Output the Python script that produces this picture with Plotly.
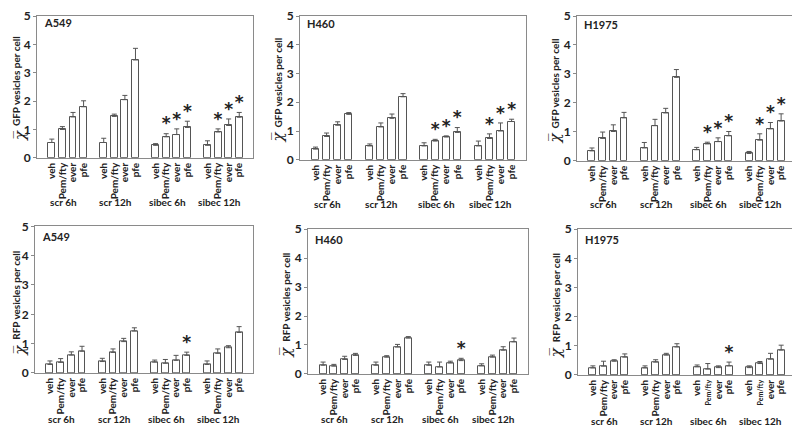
import plotly.graph_objects as go

# groups and treatments shared by all six panels
groups = ['scr 6h', 'scr 12h', 'sibec 6h', 'sibec 12h']
treatments = ['veh', 'Pem/fty', 'ever', 'pfe']

# mean vesicles per cell, group-major order (4 groups x 4 treatments)
a549_gfp = [0.54, 1.00, 1.44, 1.80, 0.54, 1.46, 2.05, 3.45, 0.44, 0.74, 0.82, 1.07, 0.44, 0.91, 1.14, 1.43]
a549_gfp_err = [0.12, 0.10, 0.16, 0.21, 0.15, 0.08, 0.15, 0.41, 0.06, 0.11, 0.20, 0.22, 0.16, 0.11, 0.23, 0.17]
h460_gfp = [0.37, 0.81, 1.20, 1.58, 0.48, 1.14, 1.44, 2.19, 0.48, 0.65, 0.79, 0.95, 0.48, 0.74, 1.00, 1.33]
h460_gfp_err = [0.07, 0.12, 0.12, 0.06, 0.07, 0.14, 0.15, 0.11, 0.11, 0.06, 0.04, 0.17, 0.17, 0.16, 0.28, 0.08]
h1975_gfp = [0.34, 0.77, 1.01, 1.48, 0.44, 1.21, 1.65, 2.88, 0.38, 0.58, 0.66, 0.86, 0.25, 0.71, 1.10, 1.37]
h1975_gfp_err = [0.10, 0.22, 0.23, 0.19, 0.19, 0.22, 0.16, 0.27, 0.08, 0.06, 0.13, 0.15, 0.07, 0.22, 0.22, 0.25]

a549_rfp = [0.29, 0.36, 0.61, 0.74, 0.39, 0.70, 1.07, 1.43, 0.37, 0.33, 0.43, 0.60, 0.29, 0.67, 0.86, 1.38]
a549_rfp_err = [0.12, 0.13, 0.11, 0.17, 0.11, 0.12, 0.11, 0.11, 0.07, 0.13, 0.17, 0.11, 0.12, 0.15, 0.07, 0.20]
h460_rfp = [0.30, 0.27, 0.50, 0.64, 0.30, 0.58, 0.93, 1.24, 0.30, 0.24, 0.38, 0.46, 0.28, 0.58, 0.82, 1.11]
h460_rfp_err = [0.11, 0.06, 0.11, 0.07, 0.11, 0.05, 0.09, 0.05, 0.11, 0.17, 0.06, 0.08, 0.07, 0.07, 0.12, 0.13]
h1975_rfp = [0.24, 0.30, 0.47, 0.61, 0.24, 0.44, 0.68, 0.96, 0.28, 0.20, 0.25, 0.31, 0.25, 0.39, 0.54, 0.85]
h1975_rfp_err = [0.07, 0.17, 0.05, 0.11, 0.07, 0.08, 0.06, 0.11, 0.06, 0.19, 0.06, 0.13, 0.06, 0.07, 0.20, 0.17]

# significance marks (1 = asterisk)
gfp_stars = [0, 0, 0, 0, 0, 0, 0, 0, 0, 1, 1, 1, 0, 1, 1, 1]
rfp_stars = [0, 0, 0, 0, 0, 0, 0, 0, 0, 0, 0, 1, 0, 0, 0, 0]

# the page body keeps its default 8px margin, so the figure is sized to fit inside the window
OFF = 8
W, H = 800 - OFF, 434 - OFF
FONT = 'Lato'
LINE = '#8a8a8a'
INK = '#222222'


def fx(p):
    return min(max((p - OFF) / W, 0), 1)


def fy(p):
    return min(max(1 - (p - OFF) / H, 0), 1)


# plot boxes in window pixels: left, right, top, bottom(zero line)
panels = [
    dict(cell='A549', marker='GFP', vals=a549_gfp, errs=a549_gfp_err, stars=gfp_stars, box=(37, 253, 4, 155), grp_y=201),
    dict(cell='H460', marker='GFP', vals=h460_gfp, errs=h460_gfp_err, stars=gfp_stars, box=(300, 526, 5, 157), grp_y=203),
    dict(cell='H1975', marker='GFP', vals=h1975_gfp, errs=h1975_gfp_err, stars=gfp_stars, box=(577, 795, 6, 158), grp_y=203),
    dict(cell='A549', marker='RFP', vals=a549_rfp, errs=a549_rfp_err, stars=rfp_stars, box=(35, 253, 226, 378), grp_y=426),
    dict(cell='H460', marker='RFP', vals=h460_rfp, errs=h460_rfp_err, stars=rfp_stars, box=(308, 528, 229, 379), grp_y=426),
    dict(cell='H1975', marker='RFP', vals=h1975_rfp, errs=h1975_rfp_err, stars=rfp_stars, box=(578, 795, 229, 380), grp_y=428),
]

GAP = 4.9
xpos = [g * GAP + i for g in range(len(groups)) for i in range(len(treatments))]
group_mid = [g * GAP + 1.5 for g in range(len(groups))]

fig = go.Figure()
annotations = []

for k, p in enumerate(panels, start=1):
    xa = 'x' if k == 1 else 'x%d' % k
    ya = 'y' if k == 1 else 'y%d' % k
    left, right, top, bottom = p['box']

    fig.add_trace(go.Bar(
        x=xpos, y=p['vals'], width=0.65, xaxis=xa, yaxis=ya,
        marker=dict(color='white', line=dict(color='#555555', width=1)),
        error_y=dict(type='data', symmetric=False, array=p['errs'], arrayminus=[0] * len(xpos),
                     color='#555555', thickness=1, width=2.5),
        hoverinfo='skip'))

    sx = [x for x, s in zip(xpos, p['stars']) if s]
    sy = [v + e for v, e, s in zip(p['vals'], p['errs'], p['stars']) if s]
    fig.add_trace(go.Scatter(
        x=sx, y=sy, mode='text', text=['*'] * len(sx), textposition='top center',
        textfont=dict(size=17, family='DejaVu Sans', color=INK, weight='bold'),
        xaxis=xa, yaxis=ya, hoverinfo='skip'))

    ticktext = list(treatments) * len(groups)
    if k == 6:
        # the last panel uses a smaller label for Pem/fty in the sibec groups
        ticktext[9] = "<span style='font-size:7px'>Pem/fty</span>"
        ticktext[13] = "<span style='font-size:7px'>Pem/fty</span>"

    fig.layout['xaxis' if k == 1 else 'xaxis%d' % k] = dict(
        domain=[fx(left), fx(right)], anchor=ya, range=[-1.4, 3 * GAP + 4.3],
        tickvals=xpos, ticktext=ticktext, tickangle=-90, ticks='',
        tickfont=dict(size=10, family=FONT, color=INK, weight='bold'),
        showline=True, linecolor=LINE, linewidth=1, mirror=True,
        showgrid=False, zeroline=False, fixedrange=True)
    fig.layout['yaxis' if k == 1 else 'yaxis%d' % k] = dict(
        domain=[fy(bottom), fy(top)], anchor=xa, range=[0, 5],
        tickvals=[0, 1, 2, 3, 4, 5], ticks='outside', ticklen=3, tickcolor=LINE,
        tickfont=dict(size=12, family=FONT, color=INK, weight='bold'),
        showline=True, linecolor=LINE, linewidth=1, mirror=True,
        showgrid=False, zeroline=False, fixedrange=True)

    # cell line label inside the box
    annotations.append(dict(
        text=p['cell'], xref='paper', yref='paper', x=fx(left + 5), y=fy(top + 11),
        xanchor='left', yanchor='middle', showarrow=False,
        font=dict(size=11, family=FONT, color=INK, weight='bold')))

    # y title and x-bar symbol
    mid = (top + bottom) / 2
    annotations.append(dict(
        text='%s vesicles per cell' % p['marker'], xref='paper', yref='paper',
        x=fx(max(left - 22, 16)), y=fy(mid - 4), textangle=-90,
        xanchor='center', yanchor='middle', showarrow=False,
        font=dict(size=10, family=FONT, color=INK, weight='bold')))
    annotations.append(dict(
        text='<i>\u03c7\u0305</i>', xref='paper', yref='paper',
        x=fx(max(left - 22, 20)), y=fy(mid + 53), textangle=-90,
        xanchor='center', yanchor='middle', showarrow=False,
        font=dict(size=15, family='DejaVu Serif', color=INK)))

    # group labels under the rotated treatment labels
    for g, name in enumerate(groups):
        annotations.append(dict(
            text=name, xref=xa, yref='paper', x=group_mid[g] - 0.4, y=fy(p['grp_y']),
            xanchor='center', yanchor='middle', showarrow=False,
            font=dict(size=10, family=FONT, color=INK, weight='bold')))

fig.update_layout(
    width=W, height=H, margin=dict(l=0, r=0, t=0, b=0),
    paper_bgcolor='white', plot_bgcolor='white', showlegend=False,
    bargap=0, annotations=annotations)

fig.write_html("out.html")
